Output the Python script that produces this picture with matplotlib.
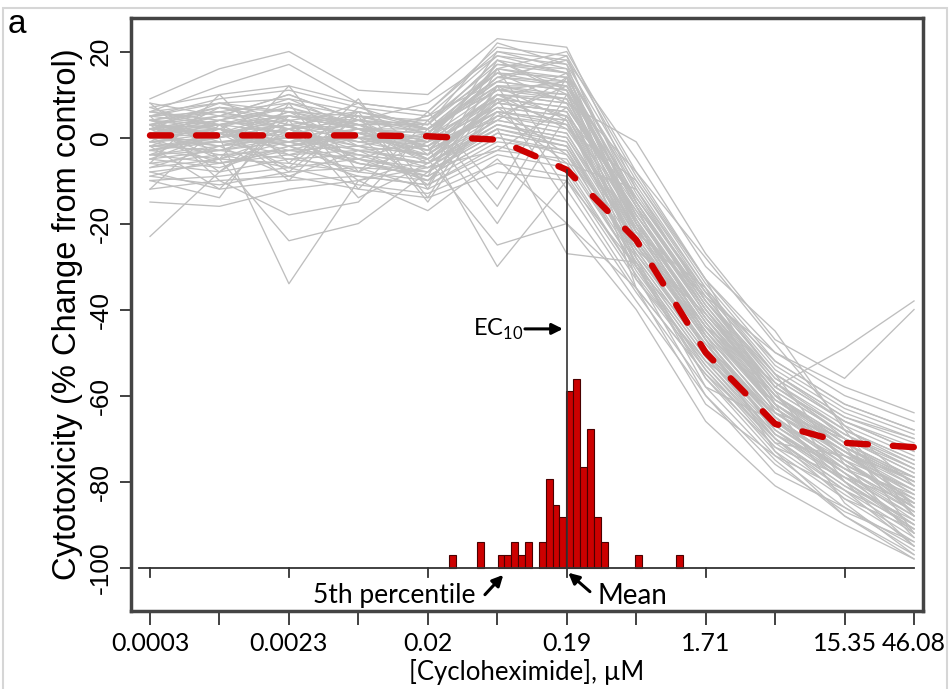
import matplotlib
matplotlib.use("Agg")
import matplotlib.pyplot as plt
import numpy as np

plt.rcParams['mathtext.fontset'] = 'custom'
plt.rcParams['mathtext.rm'] = 'Lato'

# concentrations (uM), 3-fold dilution series
conc = [0.00026013, 0.0007804, 0.0023412, 0.0070236, 0.02107, 0.06321,
        0.18963, 0.56889, 1.70667, 5.12, 15.36, 46.08]
tick_labels = ['0.0003', '', '0.0023', '', '0.02', '', '0.19', '',
               '1.71', '', '15.35', '46.08']

# individual concentration-response curves (% change from control)
curves = [
    [-23, -8, 2, -5, -10, 5, 12, -15, -40, -60, -75, -85],
    [-3, 0, -34, -10, -5, 8, 15, -20, -42, -62, -72, -88],
    [2, -5, -24, -20, -8, 10, 5, -25, -45, -65, -80, -90],
    [5, 3, 5, 2, -2, -30, -10, -30, -48, -68, -78, -92],
    [0, 2, -2, 0, -5, -25, -20, -35, -55, -70, -82, -95],
    [3, 6, 8, 5, 2, 15, 8, -1, -27, -47, -56, -40],
    [1, 5, 10, 4, 3, 18, 10, -18, -40, -58, -49, -38],
    [9, 16, 20, 11, 10, 23, 21, -12, -36, -55, -65, -70],
    [6, 12, 17, 8, 6, 20, 18, -15, -38, -56, -66, -72],
    [-15, -16, -12, -10, -17, -5, -20, -40, -66, -81, -90, -98],
    [2, 4, 1, 3, -1, 10, 8, -20, -42, -60, -70, -78],
    [-2, 0, 3, -1, -4, 6, 3, -25, -46, -64, -74, -82],
    [4, 7, 6, 2, 0, 14, 12, -16, -38, -57, -68, -75],
    [-5, -3, -1, -6, -8, 2, -2, -28, -50, -67, -77, -86],
    [0, 1, 4, 0, -2, 8, 6, -22, -44, -62, -72, -80],
    [3, 2, -2, 1, -3, 12, 9, -18, -40, -61, -71, -79],
    [-8, -6, -4, -9, -11, -2, -6, -30, -52, -69, -79, -90],
    [1, 3, 5, 2, 1, 16, 13, -14, -36, -55, -66, -73],
    [-4, -2, 0, -3, -6, 4, 1, -24, -47, -65, -76, -84],
    [5, 8, 9, 6, 3, 18, 15, -12, -35, -54, -64, -70],
    [-1, -4, -3, -2, -7, 3, -1, -27, -48, -66, -75, -87],
    [2, 5, 2, 4, 2, 11, 10, -19, -43, -63, -73, -81],
    [-6, -8, -5, -4, -9, 0, -4, -29, -51, -68, -80, -91],
    [0, -1, 1, -2, -4, 7, 5, -23, -45, -62, -74, -83],
    [6, 4, 7, 3, 4, 15, 14, -15, -39, -59, -69, -76],
    [-3, 1, -2, 2, -5, 5, 2, -21, -44, -63, -73, -85],
    [1, 0, 3, -1, 0, 9, 7, -17, -41, -60, -71, -80],
    [-10, -9, -7, -11, -13, -6, -9, -33, -54, -72, -83, -93],
    [4, 6, 3, 5, 1, 13, 11, -20, -42, -61, -70, -77],
    [-2, -3, 0, -4, -6, 3, 0, -26, -49, -66, -78, -88],
    [3, 1, 6, 3, -1, 17, 16, -13, -37, -57, -67, -74],
    [-7, -5, -6, -8, -10, -1, -3, -31, -53, -70, -81, -89],
    [0, 2, -1, 1, -3, 6, 4, -24, -46, -64, -75, -82],
    [2, 3, 4, 0, 2, 12, 12, -18, -41, -60, -72, -79],
    [-4, -6, -3, -5, -8, 1, -2, -28, -50, -67, -77, -86],
    [5, 9, 11, 7, 5, 19, 17, -10, -34, -53, -63, -69],
    [-1, 0, 2, -2, -4, 8, 6, -22, -45, -63, -74, -84],
    [1, -2, 0, 2, -2, 10, 8, -20, -43, -61, -72, -81],
    [-9, -11, -8, -7, -12, -4, -7, -32, -53, -71, -82, -92],
    [3, 5, 5, 4, 1, 14, 13, -16, -39, -58, -68, -75],
    [-3, -1, -4, -3, -5, 4, 1, -25, -47, -65, -76, -85],
    [7, 10, 12, 8, 6, 21, 19, -9, -33, -52, -62, -68],
    [0, 3, 1, -1, -1, 7, 5, -21, -44, -62, -73, -83],
    [-5, -7, -2, -6, -9, 0, -3, -27, -49, -68, -79, -88],
    [2, 1, 3, 1, 0, 11, 9, -19, -42, -60, -70, -78],
    [-12, -10, -9, -12, -14, -8, -10, -35, -55, -73, -84, -94],
    [4, 2, 8, 3, 3, 16, 14, -14, -37, -56, -66, -73],
    [-2, -1, -1, 0, -3, 5, 3, -23, -46, -64, -75, -86],
    [1, 4, 2, 3, -2, 9, 7, -17, -40, -59, -69, -77],
    [-6, -4, -7, -5, -7, 2, -1, -29, -51, -69, -80, -90],
    [3, 7, 4, 6, 2, 13, 11, -15, -38, -58, -68, -76],
    [0, -2, 2, -3, -2, 6, 4, -26, -48, -65, -77, -87],
    [-1, 1, -3, 1, -4, 8, 6, -20, -43, -62, -72, -80],
    [2, 0, 5, 2, 1, 12, 10, -18, -41, -60, -71, -79],
    [-8, -12, -10, -9, -11, -3, -5, -30, -52, -70, -81, -91],
    [6, 8, 6, 5, 4, 17, 15, -11, -35, -55, -65, -71],
    [-3, -5, -1, -4, -6, 3, 0, -24, -47, -66, -78, -89],
    [1, 2, 0, 0, -1, 10, 9, -21, -44, -63, -73, -82],
    [4, 3, 7, 2, 2, 15, 12, -16, -39, -58, -69, -77],
    [-4, -3, -5, -7, -8, 1, -2, -27, -49, -67, -78, -87],
    [-10, -14, 8, -12, 4, -16, 10, -8, -33, -50, -60, -66],
    [8, -5, 12, -8, 6, -12, 14, -30, -56, -74, -86, -96],
    [-12, 3, -10, 6, -14, 12, -12, -36, -58, -75, -88, -97],
    [5, -10, -18, -15, 2, -20, 5, -14, -36, -52, -62, -68],
    [-6, 10, -6, 9, -12, 16, -8, -32, -60, -78, -86, -95],
    [-2, -12, 4, -14, -6, 2, -27, -29, -58, -66, -76, -84],
    [7, 2, -8, 5, -15, 9, 3, -22, -35, -64, -70, -92],
    [3, 0, 6, -2, 1, 14, 18, -5, -30, -45, -68, -88],
    [-4, 2, -1, 4, -3, 10, 2, -10, -33, -62, -85, -97],
    [1, -3, 2, -6, -9, 18, 11, -35, -62, -74, -82, -90],
    [5, 6, 2, 8, -4, 20, 16, -28, -56, -72, -79, -85],
    [-7, -2, -9, -3, -10, 6, -6, -12, -38, -55, -76, -93],
    [2, 8, 4, 1, 5, 13, 19, -20, -50, -70, -84, -91],
    [0, -6, -2, -8, -1, 4, 14, -33, -52, -64, -73, -80],
    [-2, 4, 9, 2, -6, 9, -15, -38, -60, -76, -87, -94],
    [4, -1, 0, 6, 3, 22, 17, -24, -44, -57, -70, -86],
    [-9, -5, 1, -10, -7, -3, 7, -16, -46, -69, -77, -83],
    [6, 3, -4, 0, -11, 12, 4, -30, -54, -71, -74, -79],
    [-1, 7, 3, -5, 0, 16, 20, -8, -28, -48, -67, -81],
    [3, -8, 5, 3, -5, 7, -4, -26, -41, -59, -80, -95],
    [-5, 1, -7, 7, 2, 11, 13, -19, -47, -73, -88, -98],
    [8, 5, 10, 4, 8, 19, 15, -22, -37, -50, -58, -64],
]

# fitted mean curve
mean_curve = [0.5, 0.5, 0.5, 0.5, 0.3, -0.5, -7.5, -23.8, -50, -66.6, -71, -72]

# histogram of EC10 values (log10 uM bins)
hist_start = -1.5276
hist_width = 0.0472
hist_counts = [1, 0, 0, 0, 2, 0, 0, 1, 1, 2, 1, 2, 0, 2, 7, 5, 4, 14, 15, 8,
               11, 4, 2, 0, 0, 0, 0, 1, 0, 0, 0, 0, 0, 1]
ec10_mean = 0.19

fig = plt.figure(figsize=(9.5, 6.89), dpi=100)
ax = fig.add_axes([0.1379, 0.1132, 0.8337, 0.8607])

for c in curves:
    ax.plot(conc, c, color='#bebebe', lw=0.95, zorder=1)

ax.plot(conc, mean_curve, color='#cc0000', lw=4.6, dashes=(3.3, 3.9),
        dash_capstyle='round', zorder=3)

# histogram bars sitting on the -100 baseline
base = -100
scale = 2.93
for i, n in enumerate(hist_counts):
    if n == 0:
        continue
    lo = 10 ** (hist_start + i * hist_width)
    hi = 10 ** (hist_start + (i + 1) * hist_width)
    ax.bar(lo, n * scale, width=hi - lo, bottom=base, align='edge',
           color='#cc0000', edgecolor='#4a0000', lw=0.8, zorder=4)

ax.plot([conc[0] * 0.84, conc[-1]], [base, base], color='#333333', lw=1.3, zorder=5)
for c in conc[0:11:2]:
    ax.plot([c, c], [base, base - 2.3], color='#333333', lw=1.3, zorder=5)

ax.plot([ec10_mean, ec10_mean], [base, mean_curve[6]], color='#333333', lw=1.2, zorder=5)

arrow = dict(arrowstyle='-|>', lw=2.2, color='black', mutation_scale=16,
             shrinkA=0, shrinkB=0)
ax.annotate('', xy=(0.1786, -44.5), xytext=(0.0979, -44.5), arrowprops=arrow)
ax.text(0.096, -44.5, 'EC$_{\\mathrm{10}}$', ha='right', va='center',
        fontsize=17, family='Lato')
ax.annotate('', xy=(0.0695, -101.7), xytext=(0.052, -106.3), arrowprops=arrow)
ax.text(0.0124, -106.5, '5th percentile', ha='center', va='center',
        fontsize=19, family='Lato')
ax.annotate('', xy=(0.1942, -101.2), xytext=(0.2737, -105.6), arrowprops=arrow)
ax.text(0.54, -106.5, 'Mean', ha='center', va='center', fontsize=20, family='Lato')

ax.set_xscale('log')
ax.set_xlim(10 ** -3.7153, 10 ** 1.7253)
ax.set_ylim(-110.1, 27.8)
ax.minorticks_off()
ax.set_xticks(conc)
ax.set_xticklabels(tick_labels, fontsize=18, family='Lato')
ax.set_yticks([20, 0, -20, -40, -60, -80, -100])
ax.set_yticklabels(['20', '0', '-20', '-40', '-60', '-80', '-100'],
                   fontsize=19, family='Liberation Sans', rotation=90, va='center')
ax.tick_params(axis='x', length=10, width=1.3, color='#333333', pad=5)
ax.tick_params(axis='y', length=8, width=1.3, color='#333333', pad=5)
for s in ax.spines.values():
    s.set_linewidth(2.5)
    s.set_color('#444444')

ax.set_xlabel('[Cycloheximide], µM', fontsize=18.5, family='Lato', labelpad=3)
ax.set_ylabel('Cytotoxicity (% Change from control)', fontsize=23.5,
              family='Liberation Sans', labelpad=4)

fig.text(0.008, 0.965, 'a', fontsize=24, family='Liberation Sans', va='center')

fig.patches.append(plt.Rectangle((0.003, -0.01), 0.994, 0.998, transform=fig.transFigure,
                                 fill=False, edgecolor='#d6d6d6', lw=1.5))

fig.savefig('out.png', dpi=100)
